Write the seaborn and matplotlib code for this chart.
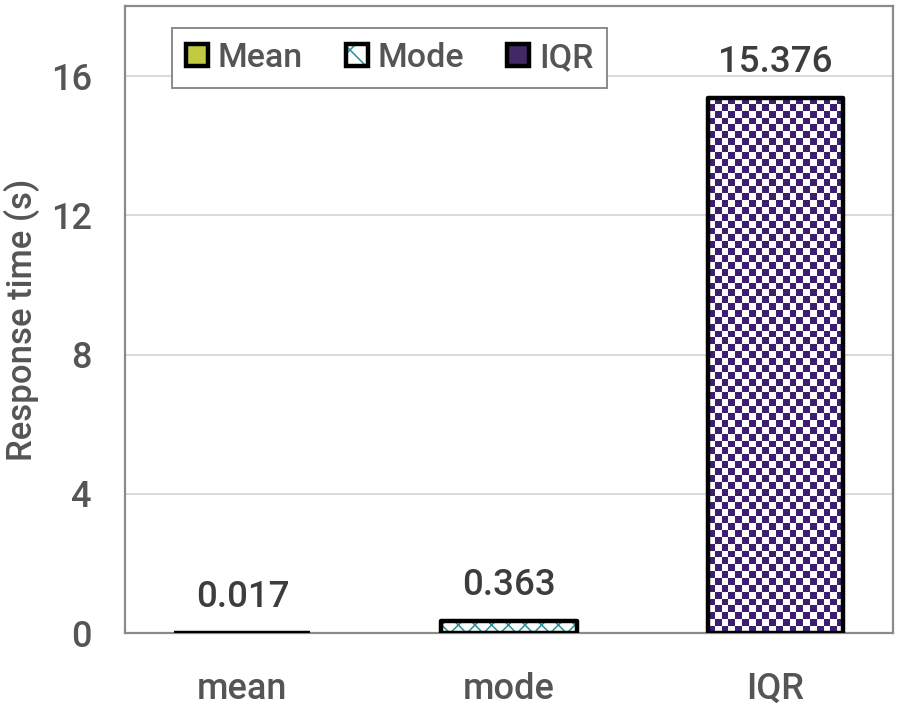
import numpy as np
import pandas as pd
import matplotlib
matplotlib.use("Agg")
import matplotlib.pyplot as plt
from matplotlib.colors import ListedColormap
from matplotlib.patches import Rectangle
from matplotlib.legend_handler import HandlerTuple
import seaborn as sns

# chart data
categories = ["mean", "mode", "IQR"]
legend_labels = ["Mean", "Mode", "IQR"]
values = [0.017, 0.363, 15.376]
y_ticks = [0, 4, 8, 12, 16]

MEAN_COLOR = "#d6e12b"
MODE_HATCH = "#2a8f96"
IQR_COLOR = "#3d1f70"
TEXT_GREY = "#555555"


def style_fonts():
    sns.set_theme(style="white")
    plt.rcParams["font.family"] = ["Roboto", "DejaVu Sans"]
    plt.rcParams["hatch.linewidth"] = 1.1


def outline(ax, bar):
    # black frame drawn on top of any fill / texture
    r = Rectangle((bar.get_x(), bar.get_y()), bar.get_width(), bar.get_height(),
                  facecolor="none", edgecolor="black", linewidth=3.2,
                  joinstyle="round", zorder=6)
    ax.add_patch(r)
    return r


def plot_bars(output_file):
    style_fonts()
    df = pd.DataFrame({"category": categories, "stat": legend_labels, "value": values})

    fig, ax = plt.subplots(figsize=(9, 7.06), dpi=100)
    fig.subplots_adjust(left=0.139, right=0.992, top=0.991, bottom=0.103)

    sns.barplot(data=df, x="category", y="value", hue="stat",
                palette=[MEAN_COLOR, "white", IQR_COLOR], dodge=False,
                width=0.51, legend=False, ax=ax, zorder=3)

    ax.set_xlim(-0.44, 2.44)
    ax.set_ylim(0, 18)

    handles = []
    for i, cont in enumerate(ax.containers):
        bar = cont.patches[0]
        bar.set_linewidth(0)
        outline(ax, bar)
        if i == 1:
            # teal hatch on white
            hatch = Rectangle((bar.get_x(), bar.get_y()), bar.get_width(), bar.get_height(),
                              facecolor="none", edgecolor=MODE_HATCH, hatch="xx",
                              linewidth=0, zorder=4)
            ax.add_patch(hatch)
            handles.append((Rectangle((0, 0), 1, 1, facecolor="white", edgecolor=MODE_HATCH,
                                      hatch="x", linewidth=0),
                            Rectangle((0, 0), 1, 1, facecolor="none", edgecolor="black",
                                      linewidth=3.2)))
        else:
            handles.append(Rectangle((0, 0), 1, 1, facecolor=bar.get_facecolor(),
                                     edgecolor="black", linewidth=3.2))
        if i == 2:
            # checkerboard texture clipped to the bar
            n_cols = 20
            n_rows = int(round(n_cols * bar.get_height() / 18 * 625 / (bar.get_width() * 267)))
            rr, cc = np.indices((n_rows, n_cols))
            board = (rr + cc) % 2
            img = ax.imshow(board, cmap=ListedColormap(["white", IQR_COLOR]),
                            extent=(bar.get_x(), bar.get_x() + bar.get_width(),
                                    0, bar.get_height()),
                            aspect="auto", interpolation="nearest", zorder=4)
            img.set_clip_path(bar)

    ax.set_xlim(-0.44, 2.44)
    ax.set_ylim(0, 18)

    for cont in ax.containers:
        ax.bar_label(cont, fmt="%.3f", padding=13, fontsize=26.5, color="#3d3d3d",
                     fontweight="medium", zorder=7)

    ax.set_yticks(y_ticks)
    ax.yaxis.grid(True, color="#d9d9d9", linewidth=1.4, zorder=0)
    ax.set_axisbelow(True)
    ax.tick_params(axis="y", length=0, pad=24, labelsize=26, labelcolor=TEXT_GREY)
    ax.tick_params(axis="x", length=0, pad=28, labelsize=26, labelcolor=TEXT_GREY)
    for lab in ax.get_yticklabels():
        lab.set_fontweight("medium")
    for lab in ax.get_xticklabels():
        lab.set_fontweight("medium")
    ax.set_xlabel("")
    ax.set_ylabel("Response time (s)", fontsize=25, color=TEXT_GREY, labelpad=8,
                  fontweight="medium")

    for side in ["left", "right", "top", "bottom"]:
        ax.spines[side].set_visible(True)
        ax.spines[side].set_color("#8a8a8a")
        ax.spines[side].set_linewidth(1.6)

    leg = ax.legend(handles, legend_labels, loc="upper left",
                    bbox_to_anchor=(0.061, 0.965), borderaxespad=0, ncol=3,
                    prop={"size": 24.5, "weight": "medium"},
                    handler_map={tuple: HandlerTuple(ndivide=1)},
                    handlelength=0.65, handleheight=0.65, handletextpad=0.3,
                    columnspacing=1.25, borderpad=0.4, fancybox=False,
                    framealpha=1, edgecolor="#8a8a8a", labelcolor=TEXT_GREY)
    leg.get_frame().set_linewidth(1.4)
    leg.set_zorder(8)

    fig.savefig(output_file, dpi=100)
    plt.close(fig)


if __name__ == "__main__":
    plot_bars("out.png")
